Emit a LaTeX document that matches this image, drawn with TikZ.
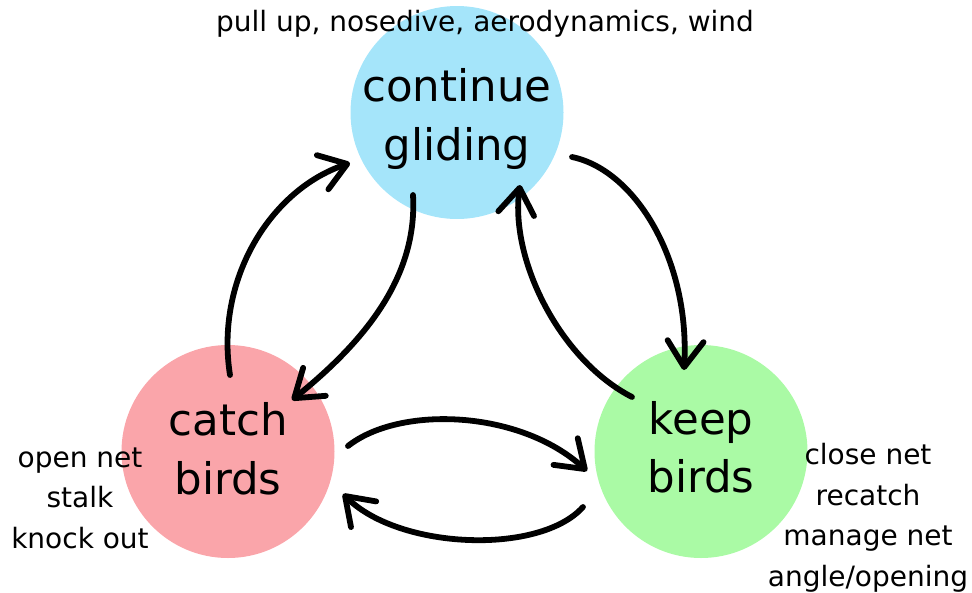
\documentclass[tikz,border=0pt]{standalone}
\usepackage{fontspec}
\setmainfont{DejaVu Sans}
\usetikzlibrary{arrows.meta}
\definecolor{glideblue}{RGB}{165,229,250}
\definecolor{catchpink}{RGB}{250,165,170}
\definecolor{keepgreen}{RGB}{170,250,165}
\begin{document}
\begin{tikzpicture}[x=1pt, y=-1pt,
  state/.style={circle, minimum size=213pt, inner sep=0pt},
  statetext/.style={anchor=base, align=center, font=\fontsize{43.5}{58.5}\selectfont},
  note/.style={anchor=base, align=center, font=\fontsize{28}{40.5}\selectfont},
  flow/.style={line width=5.8pt, line cap=round, -{Straight Barb[length=26pt, width=36pt, line cap=round, line join=round]}}]
  \useasboundingbox (0,0) rectangle (972,592);

  % The three states (draw FIRST); text nodes sit on their last baseline
  \node[state, fill=glideblue] (glide) at (457,112.5) {};
  \node[state, fill=catchpink] (catch) at (228,451.5) {};
  \node[state, fill=keepgreen] (keep) at (701,451.5) {};
  \node[statetext] (glidetext) at (457,160) {continue\\gliding};
  \node[statetext] (catchtext) at (228,494) {catch\\birds};
  \node[statetext] (keeptext) at (701,492.5) {keep\\birds};

  % What happens in each state
  \node[note] (glidenote) at (485,31) {pull up, nosedive, aerodynamics, wind};
  \node[note] (catchnote) at (80,548) {open net\\stalk\\knock out};
  \node[note] (keepnote) at (868,586) {close net\\recatch\\manage net\\angle/opening};

  % Transitions between catching and gliding
  \draw[flow] ([shift={(2,-76.5)}]catch.center) .. controls (215,280) and (270,190) .. ([shift={(-107,50.5)}]glide.center);
  \draw[flow] ([shift={(-44,82.5)}]glide.center) .. controls (418,280) and (360,345) .. ([shift={(64,-51.5)}]catch.center);

  % Transitions between gliding and keeping
  \draw[flow] ([shift={(115,44.5)}]glide.center) .. controls (635,170) and (690,260) .. ([shift={(-17,-81.5)}]keep.center);
  \draw[flow] ([shift={(-69,-54.5)}]keep.center) .. controls (560,360) and (510,260) .. ([shift={(63,72.5)}]glide.center);

  % Transitions between catching and keeping
  \draw[flow] ([shift={(120,-5.5)}]catch.center) .. controls (400,405) and (520,410) .. ([shift={(-114,19.5)}]keep.center);
  \draw[flow] ([shift={(-118,55.5)}]keep.center) .. controls (540,555) and (400,550) .. ([shift={(115,42.5)}]catch.center);

\end{tikzpicture}
\end{document}
